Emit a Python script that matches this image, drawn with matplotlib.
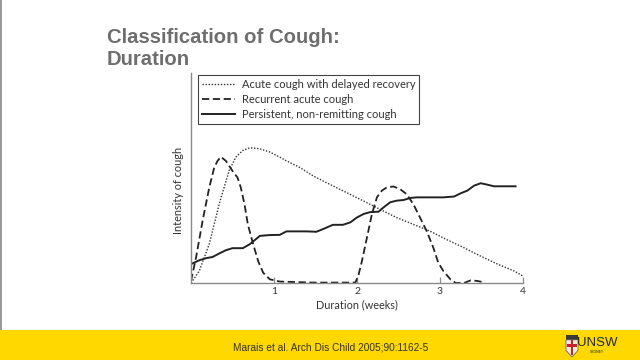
import matplotlib
matplotlib.use("Agg")
import matplotlib.pyplot as plt
from matplotlib.patches import Rectangle, Polygon

# ---------------- data ----------------
acute_x = [0.0, 0.10, 0.22, 0.34, 0.46, 0.54, 0.625, 0.71, 0.83, 0.95, 1.07, 1.19, 1.31,
           1.47, 1.67, 1.875, 2.08, 2.28, 2.48, 2.68, 2.88, 3.08, 3.29, 3.49, 3.69, 3.89, 4.0]
acute_y = [0.0, 5.9, 19.0, 38.6, 54.9, 61.4, 64.7, 66.0, 65.5, 63.9, 61.4, 58.8, 56.4,
           52.3, 48.2, 44.1, 40.0, 35.9, 31.9, 28.6, 25.3, 21.2, 17.2, 13.1, 9.3, 5.9, 3.4]

recur_x = [0.0, 0.06, 0.14, 0.22, 0.28, 0.32, 0.36, 0.42, 0.50, 0.56, 0.60, 0.645, 0.685,
           0.75, 0.81, 0.87, 0.95, 1.07, 1.47, 1.98, 2.02, 2.06, 2.12, 2.18, 2.24, 2.30,
           2.36, 2.44, 2.52, 2.60, 2.68, 2.76, 2.84, 2.92, 2.98, 3.04, 3.125, 3.19, 3.29,
           3.37, 3.45, 3.53]
recur_y = [1.0, 12.3, 30.4, 46.6, 56.4, 59.6, 61.6, 59.6, 54.7, 51.5, 46.6, 38.4, 28.6,
           18.8, 10.6, 5.0, 1.8, 0.7, 0.2, 0.2, 4.2, 10.8, 22.2, 33.7, 41.8, 45.1,
           46.7, 47.1, 45.8, 43.3, 38.4, 31.9, 25.3, 17.2, 9.8, 5.9, 1.8, 0.0, 0.0,
           1.3, 1.0, 0.3]

persist_x = [0.0, 0.10, 0.18, 0.26, 0.34, 0.42, 0.50, 0.625, 0.71, 0.83, 0.95, 1.07, 1.15,
             1.39, 1.51, 1.59, 1.71, 1.83, 1.92, 2.00, 2.08, 2.16, 2.26, 2.32, 2.40, 2.48,
             2.56, 2.64, 2.72, 2.92, 3.04, 3.17, 3.25, 3.33, 3.41, 3.49, 3.57, 3.65, 3.91]
persist_y = [9.2, 11.1, 12.1, 12.7, 14.4, 16.0, 17.0, 17.0, 19.0, 23.0, 23.4, 23.5, 25.2,
             25.2, 25.0, 26.3, 28.4, 28.4, 29.6, 32.0, 33.7, 34.6, 34.8, 36.9, 39.4, 40.2,
             40.5, 41.5, 41.8, 41.8, 41.8, 42.2, 43.8, 45.1, 47.5, 48.7, 48.0, 47.2, 47.2]

series_labels = ["Acute cough with delayed recovery",
                 "Recurrent acute cough",
                 "Persistent, non-remitting cough"]
x_ticks = [1, 2, 3, 4]
x_label = "Duration (weeks)"
y_label = "Intensity of cough"
title_text = "Classification of Cough:\nDuration"
citation = "Marais et al. Arch Dis Child 2005;90:1162-5"

# ---------------- figure ----------------
fig = plt.figure(figsize=(6.4, 3.6), dpi=100)
fig.patch.set_facecolor("white")

# yellow footer band
fig.patches.append(Rectangle((0, 0), 1, 30 / 360, transform=fig.transFigure,
                             facecolor="#FFD800", edgecolor="none", zorder=0))
fig.patches.append(Rectangle((0, 30 / 360), 1.5 / 640, 330 / 360, transform=fig.transFigure,
                             facecolor="#9a9a9a", edgecolor="none", zorder=0))

fig.text(107 / 640, 1 - 28 / 360, title_text, ha="left", va="top",
         fontsize=14.6, fontweight="bold", color="#6e6e6e",
         family=["Liberation Sans", "DejaVu Sans"], linespacing=1.17)

fig.text(330.5 / 640, 1 - 347 / 360, citation, ha="center", va="center",
         fontsize=7.3, color="#333333",
         family=["Liberation Sans Narrow", "Liberation Sans", "DejaVu Sans"])

# UNSW logo (simple shield + wordmark)
sx, sy, sw, sh = 566 / 640, 1 - 357 / 360, 12 / 640, 22 / 360
fig.patches.append(Rectangle((sx, sy + sh * 0.78), sw, sh * 0.22, transform=fig.transFigure,
                             facecolor="#3a3a3a", edgecolor="none"))
shield = Polygon([(sx, sy + sh * 0.78), (sx + sw, sy + sh * 0.78), (sx + sw, sy + sh * 0.3),
                  (sx + sw / 2, sy), (sx, sy + sh * 0.3)], closed=True,
                 transform=fig.transFigure, facecolor="#f2e9d8", edgecolor="#555555", lw=0.5)
fig.patches.append(shield)
fig.patches.append(Rectangle((sx + sw * 0.4, sy + sh * 0.1), sw * 0.2, sh * 0.68,
                             transform=fig.transFigure, facecolor="#c8202f", edgecolor="none"))
fig.patches.append(Rectangle((sx + sw * 0.05, sy + sh * 0.45), sw * 0.9, sh * 0.14,
                             transform=fig.transFigure, facecolor="#c8202f", edgecolor="none"))
fig.text(597 / 640, 1 - 343 / 360, "UNSW", ha="center", va="center", fontsize=9.5,
         color="#1f2a44", family=["Liberation Sans Narrow", "Liberation Sans", "DejaVu Sans"])
fig.text(597 / 640, 1 - 352 / 360, "SYDNEY", ha="center", va="center", fontsize=2.5,
         color="#1f2a44", family=["DejaVu Sans"])

# ---------------- axes ----------------
ax = fig.add_axes([191 / 640, 1 - 283 / 360, 332 / 640, 210 / 360])
ax.set_facecolor("none")
l1, = ax.plot(acute_x, acute_y, color="#333333", lw=1.0, linestyle=(0, (1, 1.2)))
l2, = ax.plot(recur_x, recur_y, color="#222222", lw=1.3, linestyle=(0, (4, 2)))
l3, = ax.plot(persist_x, persist_y, color="#222222", lw=1.4, linestyle="-")

ax.set_xlim(0, 4)
ax.set_ylim(0, 102.5)
ax.set_xticks(x_ticks)
ax.set_xticklabels([str(t) for t in x_ticks])
ax.set_yticks([])
for s in ["top", "right"]:
    ax.spines[s].set_visible(False)
for s in ["left", "bottom"]:
    ax.spines[s].set_color("#8a8a8a")
    ax.spines[s].set_linewidth(1.0)
ax.tick_params(axis="x", direction="in", length=4, width=0.9, color="#8a8a8a",
               labelsize=7.5, labelcolor="#333333", pad=3)
for lab in ax.get_xticklabels():
    lab.set_family(["Lato", "DejaVu Sans"])
ax.set_xlabel(x_label, fontsize=7.8, color="#333333", family=["Lato", "DejaVu Sans"],
              labelpad=2)
ax.set_ylabel(y_label, fontsize=7.8, color="#333333", family=["Lato", "DejaVu Sans"])
ax.yaxis.set_label_coords(-7 / 332, (283 - 190) / 210)

leg = ax.legend([l1, l2, l3], series_labels, loc="upper left",
                bbox_to_anchor=(198 / 640, 1 - 75 / 360), bbox_transform=fig.transFigure,
                frameon=True, fancybox=False, edgecolor="#444444", framealpha=1,
                handlelength=3.0, handletextpad=0.6, borderpad=0.35,
                labelspacing=0.35, borderaxespad=0,
                prop={"family": ["Lato", "DejaVu Sans"], "size": 8.0})
leg.get_frame().set_linewidth(0.8)
for t in leg.get_texts():
    t.set_color("#333333")

fig.savefig("out.png", dpi=100, facecolor="white")
